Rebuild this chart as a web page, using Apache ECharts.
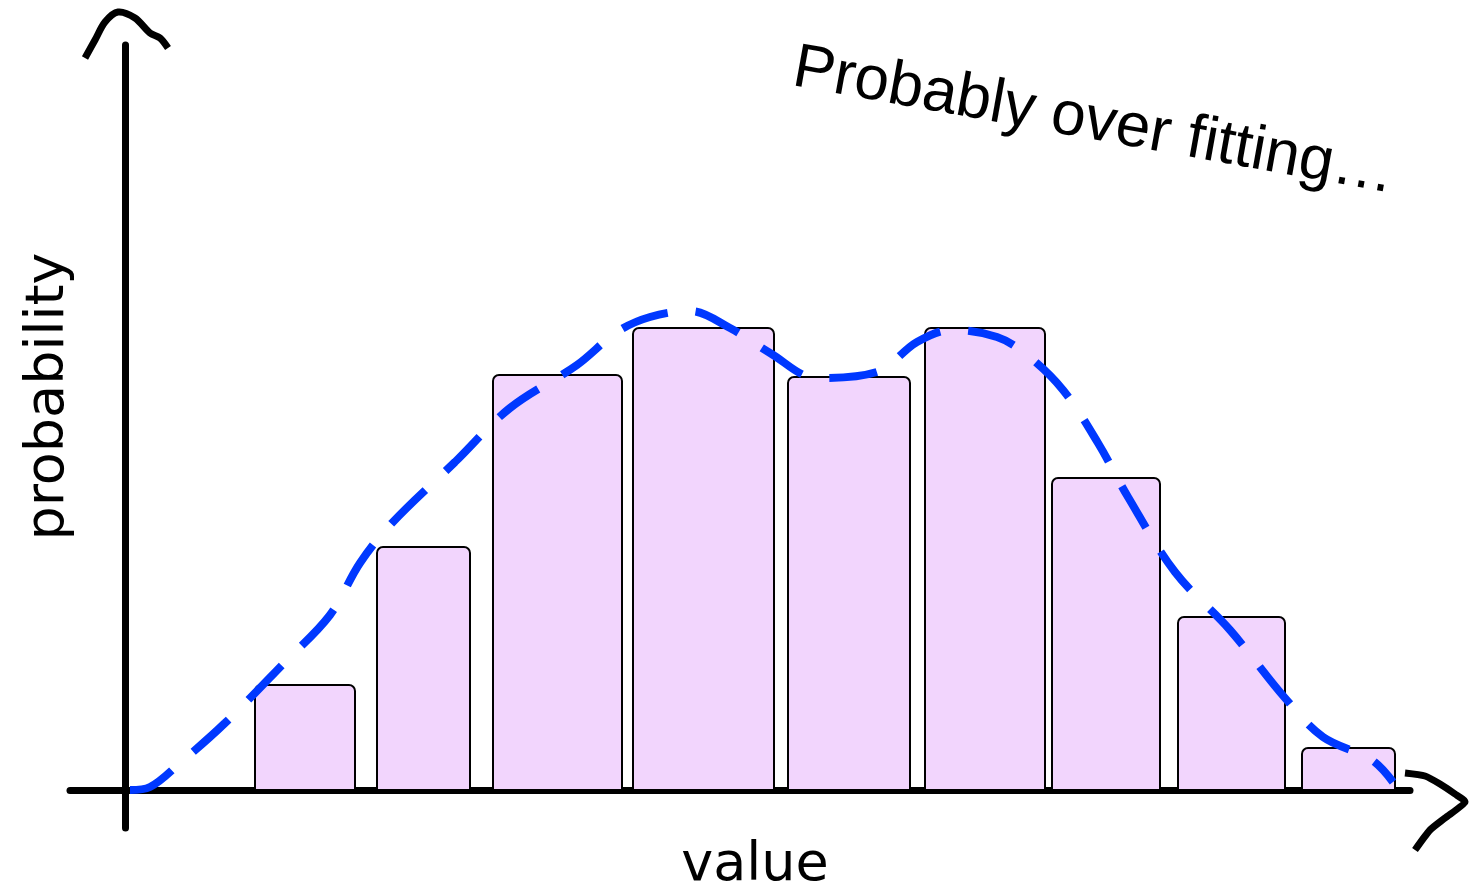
<!DOCTYPE html>
<html>
<head>
<meta charset="utf-8">
<script src="https://cdn.jsdelivr.net/npm/echarts@6/dist/echarts.min.js"></script>
<style>
html,body{margin:0;padding:0;background:#fff;}
#chart{width:1470px;height:889px;}
</style>
</head>
<body>
<div id="chart"></div>
<script>
// Histogram bins (value units)
const binStart  = [1.30, 2.52, 3.68, 5.08, 6.63, 8.00, 9.27, 10.53, 11.77];
const binEnd    = [2.30, 3.45, 4.97, 6.49, 7.85, 9.20, 10.35, 11.60, 12.70];
const binHeight = [1.05, 2.43, 4.15, 4.62, 4.13, 4.62, 3.12, 1.73, 0.42];

// Fitted (over-fitted) curve points
const curveX = [0.05, 0.25, 0.55, 1.00, 1.60, 2.05, 2.35, 2.67, 3.30, 3.85, 4.52, 4.92, 5.25, 5.65, 6.05, 6.45, 6.92, 7.52, 7.92, 8.27, 8.72, 9.02, 9.38, 9.73, 10.03, 10.50, 11.05, 11.60, 11.98, 12.47, 12.68];
const curveY = [0.00, 0.03, 0.27, 0.67, 1.28, 1.75, 2.27, 2.67, 3.28, 3.82, 4.25, 4.58, 4.73, 4.79, 4.62, 4.37, 4.12, 4.18, 4.48, 4.60, 4.53, 4.35, 4.00, 3.47, 2.93, 2.18, 1.60, 0.92, 0.53, 0.30, 0.08];

const xLabel = 'value';
const yLabel = 'probability';
const note = 'Probably over fitting\u2026';

const xMin = -0.55, xMax = 12.85, yMin = -0.38, yMax = 7.45;

const chart = echarts.init(document.getElementById('chart'));

const bins = binStart.map((s, i) => [s, binEnd[i], binHeight[i]]);
const curve = curveX.map((x, i) => [x, curveY[i]]);

const option = {
  backgroundColor: '#ffffff',
  animation: false,
  grid: { left: 70, right: 60, top: 45, bottom: 61, outerBoundsMode: 'none' },
  xAxis: {
    type: 'value', min: xMin, max: xMax,
    name: xLabel, nameLocation: 'middle', nameGap: 11,
    nameTextStyle: { fontFamily: 'DejaVu Sans', fontSize: 54, color: '#000', padding: [0, 0, 0, 30] },
    axisLine: { show: true, onZero: true, lineStyle: { color: '#000', width: 7 } },
    axisTick: { show: false }, axisLabel: { show: false }, splitLine: { show: false }
  },
  yAxis: {
    type: 'value', min: yMin, max: yMax,
    name: yLabel, nameLocation: 'middle', nameGap: -6, nameRotate: 90,
    nameTextStyle: { fontFamily: 'DejaVu Sans', fontSize: 54, color: '#000', padding: [0, 0, 0, 80] },
    axisLine: { show: true, onZero: true, lineStyle: { color: '#000', width: 7 } },
    axisTick: { show: false }, axisLabel: { show: false }, splitLine: { show: false }
  },
  series: [
    {
      type: 'custom',
      data: bins,
      z: 2,
      renderItem: function (params, api) {
        const p0 = api.coord([api.value(0), api.value(2)]);
        const p1 = api.coord([api.value(1), 0]);
        return {
          type: 'rect',
          shape: { x: p0[0], y: p0[1], width: p1[0] - p0[0], height: p1[1] - p0[1], r: [6, 6, 0, 0] },
          style: { fill: '#f2d5fd', stroke: '#000', lineWidth: 2 }
        };
      }
    },
    {
      type: 'line',
      data: curve,
      z: 3,
      smooth: 0.35,
      showSymbol: false,
      symbol: 'none',
      lineStyle: { color: '#0038ff', width: 8, type: [48, 28], cap: 'butt' }
    }
  ],
  graphic: [
    {
      id: 'note',
      type: 'text',
      x: 1094, y: 122,
      rotation: -0.178,
      style: {
        text: note,
        fontFamily: 'Liberation Sans',
        fontSize: 62,
        fill: '#000',
        align: 'center',
        verticalAlign: 'middle'
      }
    }
  ]
};

chart.setOption(option);

// Hand-drawn arrow heads at the ends of the two axes
const yTop = chart.convertToPixel({ gridIndex: 0 }, [0, yMax]);
const xEnd = chart.convertToPixel({ gridIndex: 0 }, [xMax, 0]);
const yRel = [[-40, 13], [-30, -5], [-20, -23], [-7, -33], [10, -27], [25, -12], [35, -7], [43, 3]];
const xRel = [[-5, -17], [15, -14], [30, -6], [45, 4], [55, 12], [35, 28], [20, 40], [5, 60]];
chart.setOption({
  graphic: [
    {
      id: 'yArrow',
      type: 'polyline',
      shape: { points: yRel.map(p => [yTop[0] + p[0], yTop[1] + p[1]]), smooth: 0.3 },
      style: { stroke: '#000', lineWidth: 7, fill: null, lineCap: 'butt', lineJoin: 'round' }
    },
    {
      id: 'xArrow',
      type: 'polyline',
      shape: { points: xRel.map(p => [xEnd[0] + p[0], xEnd[1] + p[1]]), smooth: 0.2 },
      style: { stroke: '#000', lineWidth: 7, fill: null, lineCap: 'butt', lineJoin: 'round' }
    }
  ]
});
</script>
</body>
</html>
